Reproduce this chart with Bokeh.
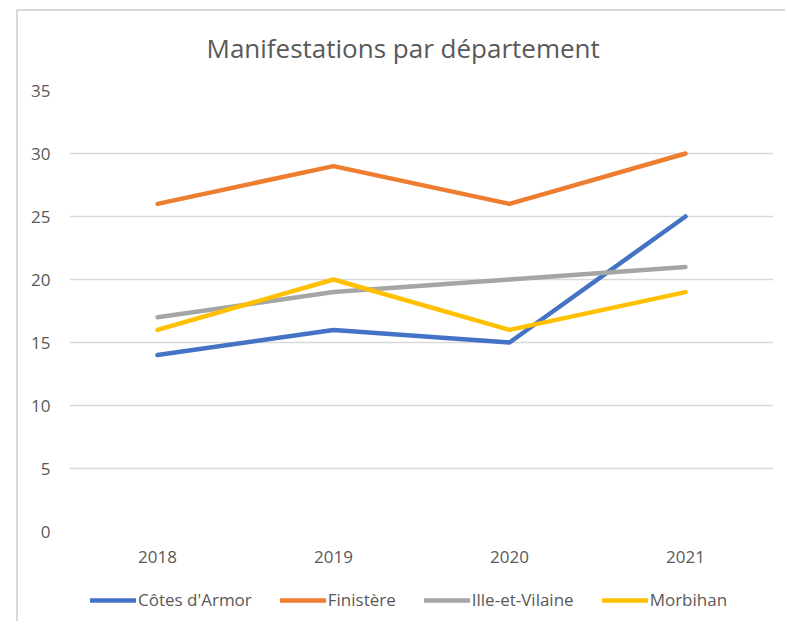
from bokeh.plotting import figure
from bokeh.layouts import column
from bokeh.models import Range1d, FactorRange, FixedTicker, Legend, LegendItem
from bokeh.embed import file_html
from bokeh.resources import INLINE

# ---- data ----
years = ["2018", "2019", "2020", "2021"]
cotes_armor = [14, 16, 15, 25]
finistere = [26, 29, 26, 30]
ille_et_vilaine = [17, 19, 20, 21]
morbihan = [16, 20, 16, 19]
series_names = ["Côtes d'Armor", "Finistère", "Ille-et-Vilaine", "Morbihan"]
series_colors = ["#4472C4", "#ED7D31", "#A5A5A5", "#FFC000"]
y_ticks = [0, 5, 10, 15, 20, 25, 30, 35]

FONT = "Open Sans"
TXT = "#595959"
GRID = "#d9d9d9"

p = figure(
    frame_width=704, frame_height=441,
    x_range=FactorRange(*years), y_range=Range1d(0, 35),
    output_backend="svg", toolbar_location=None,
    min_border_left=69, min_border_right=12, min_border_top=90, min_border_bottom=40,
    background_fill_color="white", border_fill_alpha=0,
)
# chart-area border: thin light-grey lines on the top and left edges
p.styles = {
    "background": (f"linear-gradient({GRID}, {GRID}) 16px 9px / 2px 640px no-repeat, "
                   f"linear-gradient({GRID}, {GRID}) 16px 9px / 800px 2px no-repeat, white"),
}

p.title.text = "Manifestations par département"
p.title.align = "left"
p.title.offset = 137
p.title.standoff = 50
p.title.text_font = FONT
p.title.text_font_size = "26px"
p.title.text_font_style = "normal"
p.title.text_color = TXT

p.outline_line_color = None
p.xgrid.grid_line_color = None
p.ygrid.grid_line_color = GRID
p.ygrid.grid_line_width = 1.5

p.yaxis.ticker = FixedTicker(ticks=y_ticks)
for ax in (p.xaxis[0], p.yaxis[0]):
    ax.axis_line_color = None
    ax.major_tick_line_color = None
    ax.minor_tick_line_color = None
    ax.major_label_text_font = FONT
    ax.major_label_text_font_size = "17px"
    ax.major_label_text_color = TXT
p.yaxis.major_label_standoff = 13
p.xaxis.major_label_standoff = 13

all_series = [cotes_armor, finistere, ille_et_vilaine, morbihan]
for vals, col in zip(all_series, series_colors):
    p.line(x=years, y=vals, line_color=col, line_width=4.5, line_cap="round", line_join="round")

# ---- legend strip below the chart ----
# Same series drawn into a strip whose y-range lies above the data, so only the legend shows.
leg = figure(
    frame_width=785, frame_height=50,
    x_range=FactorRange(*years), y_range=Range1d(1000, 1001),
    x_axis_type=None, y_axis_type=None,
    output_backend="svg", toolbar_location=None,
    min_border=0, outline_line_color=None,
    background_fill_alpha=0, border_fill_alpha=0,
)
leg.grid.visible = False
leg.styles = {
    "background": f"linear-gradient({GRID}, {GRID}) 16px 0px / 2px 100px no-repeat, white",
}
items = []
for name, vals, col in zip(series_names, all_series, series_colors):
    r = leg.line(x=years, y=vals, line_color=col, line_width=4.5, line_cap="round")
    items.append(LegendItem(label=name, renderers=[r]))

legend = Legend(
    items=items, orientation="horizontal", location=(90, 10),
    glyph_width=46, glyph_height=18, label_height=18, label_standoff=2, spacing=28,
    padding=0, margin=0, border_line_alpha=0, background_fill_alpha=0,
    label_text_font=FONT, label_text_font_size="17px", label_text_color=TXT,
)
leg.add_layout(legend)

layout = column(p, leg, spacing=0)
open("out.html", "w").write(file_html(layout, INLINE))
